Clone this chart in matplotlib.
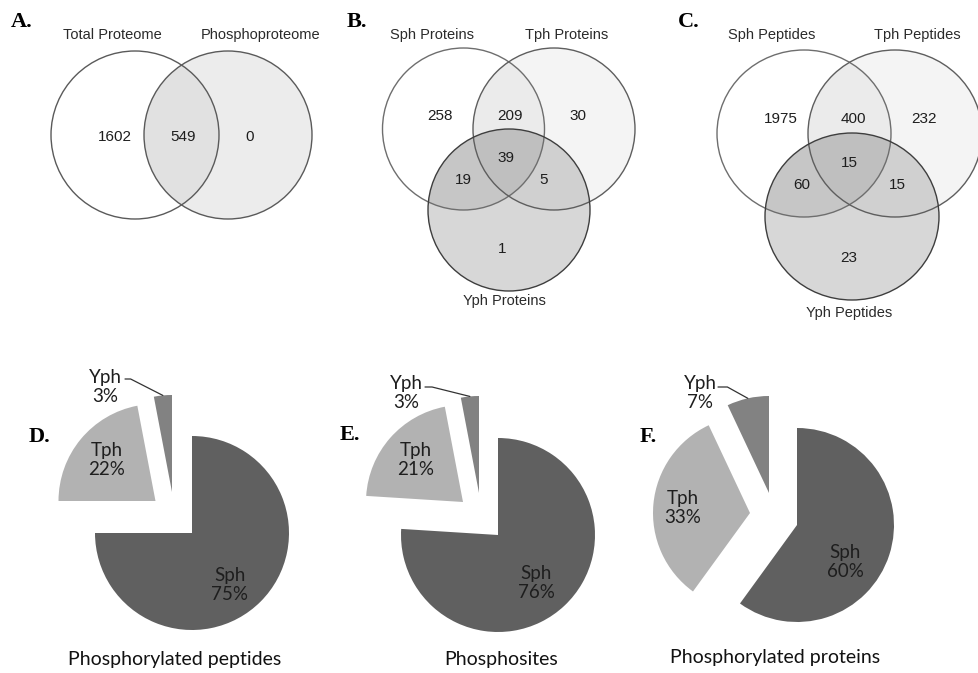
import matplotlib
matplotlib.use('Agg')
import matplotlib.pyplot as plt
from matplotlib.patches import Ellipse
import numpy as np

W, H = 979, 673

# ---- data ----
venn_a_sets = ['Total Proteome', 'Phosphoproteome']
venn_a_counts = [1602, 549, 0]            # only total, both, only phospho

venn_b_sets = ['Sph Proteins', 'Tph Proteins', 'Yph Proteins']
venn_b_counts = [258, 209, 30, 39, 19, 5, 1]   # S, ST, T, STY, SY, TY, Y

venn_c_sets = ['Sph Peptides', 'Tph Peptides', 'Yph Peptides']
venn_c_counts = [1975, 400, 232, 15, 60, 15, 23]

pie_types = ['Sph', 'Tph', 'Yph']
pie_d = [75, 22, 3]
pie_e = [76, 21, 3]
pie_f = [60, 33, 7]
pie_titles = ['Phosphorylated peptides', 'Phosphosites', 'Phosphorylated proteins']

# ---- style ----
VFONT = 'Liberation Sans'
PFONT = 'Lato'
LFONT = 'Liberation Serif'
TXT = '#1e1e1e'
pie_colors = ['#606060', '#b2b2b2', '#828282']

fig = plt.figure(figsize=(W / 100, H / 100), dpi=100)
ax = fig.add_axes([0, 0, 1, 1])


def Y(y):
    return H - y


def shape(c, w, h, **kw):
    return Ellipse((c[0], Y(c[1])), w, h, **kw)


def overlay(centers, w, h, i, j, a):
    # darken the overlap: circle i clipped to circle j
    p = shape(centers[i], w, h, facecolor='k', alpha=a, lw=0)
    ax.add_patch(p)
    clip = shape(centers[j], w, h)
    clip.set_transform(ax.transData)
    p.set_clip_path(clip)


def venn(centers, w, h, fills, edges, overlays, set_names, name_pos,
         counts, count_pos):
    # top pair first, the bottom set is laid over it
    for k, (c, fc) in enumerate(zip(centers, fills)):
        ax.add_patch(shape(c, w, h, facecolor=fc, lw=0))
        for (i, j, a) in overlays:
            if max(i, j) == k:
                overlay(centers, w, h, i, j, a)
    for c, ec in zip(centers, edges):
        ax.add_patch(shape(c, w, h, fill=False, edgecolor=ec, lw=1.0))
    for name, (x, y) in zip(set_names, name_pos):
        ax.text(x, Y(y), name, ha='center', va='center', fontsize=10.5,
                family=VFONT, color='#2a2a2a')
    for n, (x, y) in zip(counts, count_pos):
        ax.text(x, Y(y), str(n), ha='center', va='center', fontsize=11,
                family=VFONT, color=TXT)


# A
venn([(135, 135), (228, 135)], 168, 168,
     ['white', '#ececec'], ['#5a5a5a', '#5a5a5a'], [(0, 1, 0.045)],
     venn_a_sets, [(112, 35), (261, 35)],
     venn_a_counts, [(115, 137), (183, 137), (250, 137)])

# B
venn([(463.5, 129), (554, 129), (509, 210)], 162, 162,
     ['white', '#f4f4f4', '#d7d7d7'], ['#6e6e6e', '#5e5e5e', '#3e3e3e'],
     [(0, 1, 0.035), (0, 2, 0.075), (1, 2, 0.03)],
     venn_b_sets, [(432, 35), (567, 35), (504, 301)],
     venn_b_counts, [(440, 116), (510, 116), (578, 116), (506, 158),
                     (463, 180), (544, 180), (502, 249)])

# C
venn([(804, 133.5), (895, 133.5), (852, 216.5)], 174, 167,
     ['white', '#f4f4f4', '#d7d7d7'], ['#6e6e6e', '#5e5e5e', '#3e3e3e'],
     [(0, 1, 0.035), (0, 2, 0.075), (1, 2, 0.03)],
     venn_c_sets, [(772, 35), (917, 35), (849, 313)],
     venn_c_counts, [(781, 119), (853, 119), (924, 119), (849, 163),
                     (802, 185), (897, 185), (849, 258)])

# pies
pies = [
    dict(vals=pie_d, c=(192, 533), offs=[(0, 0), (-36.5, 32), (-20, 41)],
         lab=[(230, 585), (107, 460), (105, 387)], title=(175, 660),
         lead=(125, 379, -27)),
    dict(vals=pie_e, c=(498, 535), offs=[(0, 0), (-35, 33), (-19, 42)],
         lab=[(536, 583), (416, 460), (406, 393)], title=(501, 660),
         lead=(425, 387, -14)),
    dict(vals=pie_f, c=(797, 525), offs=[(0, 0), (-47, 12), (-28, 32)],
         lab=[(845, 562), (683, 508), (700, 393)], title=(775, 658),
         lead=(718, 387, -29)),
]
R = 97
for pie, title in zip(pies, pie_titles):
    cx, cy = pie['c']
    wedges, _ = ax.pie(pie['vals'], radius=R, center=(cx, Y(cy)),
                       startangle=90, counterclock=False, colors=pie_colors,
                       frame=True, wedgeprops=dict(linewidth=0))
    for w, (dx, dy) in zip(wedges, pie['offs']):
        w.set_center((cx + dx, Y(cy) + dy))
    for name, v, (x, y) in zip(pie_types, pie['vals'], pie['lab']):
        ax.text(x, Y(y), f'{name}\n{v}%', ha='center', va='center',
                fontsize=13.5, family=PFONT, color=TXT, linespacing=1.2)
    # leader line to the small slice
    wy = wedges[2]
    mid = np.deg2rad((wy.theta1 + wy.theta2) / 2)
    tip = (wy.center[0] + wy.r * np.cos(mid), wy.center[1] + wy.r * np.sin(mid))
    lx, ly, ang = pie['lead']
    ax.annotate('', xy=tip, xytext=(lx, Y(ly)),
                arrowprops=dict(arrowstyle='-', color='#333333', lw=0.9,
                                shrinkA=0, shrinkB=0,
                                connectionstyle=f'angle,angleA=0,angleB={ang},rad=0'))
    tx, ty = pie['title']
    ax.text(tx, Y(ty), title, ha='center', va='center', fontsize=14,
            family=PFONT, color='#111111')

# panel letters
for s, (x, y) in zip(['A.', 'B.', 'C.', 'D.', 'E.', 'F.'],
                     [(22, 22), (357, 22), (689, 22), (40, 437), (350, 435), (648, 437)]):
    ax.text(x, Y(y), s, ha='center', va='center', fontsize=16,
            family=LFONT, weight='bold', color='black')

ax.set_xlim(0, W)
ax.set_ylim(0, H)
ax.set_aspect('auto')
ax.axis('off')
fig.savefig('out.png', dpi=100)
